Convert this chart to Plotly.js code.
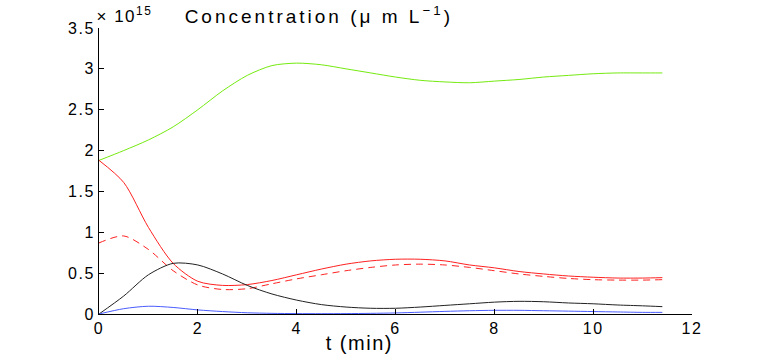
<!DOCTYPE html>
<html>
<head>
<meta charset="UTF-8">
<script src="https://cdn.plot.ly/plotly-3.0.1.min.js"></script>
<style>
	body { margin: 0; background: #fff; }
	#plot { width: 763px; height: 354px; }
	/* the reference text is set wide, so open it up a bit */
	#plot .xtick text, #plot .ytick text { letter-spacing: 1.5px; }
	#plot .annotation-text { letter-spacing: 1.5px; }
	#plot .gtitle { letter-spacing: 3px; }
</style>
</head>
<body>
<div id="plot"></div>
<script>
	// time points (min)
	var tMin = [0, 0.5, 1, 1.5, 2, 2.5, 3, 3.5, 4, 4.5, 5, 5.5, 6, 6.5, 7, 7.5, 8, 8.5, 9, 9.5, 10, 10.5, 11, 11.4];

	// concentrations, in units of 1e15
	var greenConc = [1.88, 2.00, 2.13, 2.29, 2.50, 2.73, 2.92, 3.04, 3.07, 3.05, 3.00, 2.95, 2.90, 2.86, 2.84, 2.83, 2.85, 2.87, 2.90, 2.92, 2.94, 2.95, 2.95, 2.95];
	var redConc = [1.88, 1.61, 1.06, 0.62, 0.40, 0.35, 0.36, 0.41, 0.48, 0.55, 0.61, 0.65, 0.67, 0.67, 0.65, 0.60, 0.565, 0.52, 0.49, 0.465, 0.45, 0.44, 0.44, 0.445];
	var redDashConc = [0.87, 0.955, 0.79, 0.53, 0.355, 0.30, 0.31, 0.37, 0.43, 0.48, 0.53, 0.57, 0.60, 0.61, 0.60, 0.57, 0.53, 0.49, 0.46, 0.435, 0.42, 0.415, 0.415, 0.42];
	var blackConc = [0, 0.22, 0.48, 0.62, 0.60, 0.49, 0.35, 0.245, 0.17, 0.115, 0.085, 0.07, 0.07, 0.085, 0.105, 0.125, 0.145, 0.155, 0.15, 0.135, 0.125, 0.11, 0.10, 0.09];
	var blueConc = [0, 0.065, 0.095, 0.08, 0.05, 0.03, 0.015, 0.008, 0.005, 0.004, 0.005, 0.008, 0.013, 0.022, 0.032, 0.04, 0.045, 0.045, 0.04, 0.035, 0.03, 0.025, 0.02, 0.02];

	var yTicks = [0, 0.5, 1, 1.5, 2, 2.5, 3, 3.5];
	var yTickText = ['0', '0.5', '1', '1.5', '2', '2.5', '3', '3.5'];
	var xTicks = [0, 2, 4, 6, 8, 10, 12];

	function makeTrace(y, color, dash)
	{
		return {
			x: tMin,
			y: y,
			type: 'scatter',
			mode: 'lines',
			line: {color: color, width: 1, dash: dash, shape: 'spline', smoothing: 0.8},
			hoverinfo: 'skip'
		};
	}

	var data = [
		makeTrace(greenConc, '#74ea10', 'solid'),
		makeTrace(redConc, '#ff2020', 'solid'),
		makeTrace(redDashConc, '#ff2020', '7px,5px'),
		makeTrace(blackConc, '#222222', 'solid'),
		makeTrace(blueConc, '#4a5cff', 'solid')
	];

	var fontFam = 'Liberation Sans, Arial, sans-serif';

	var layout = {
		width: 763,
		height: 354,
		margin: {l: 99, r: 71, t: 28, b: 40},
		paper_bgcolor: '#ffffff',
		plot_bgcolor: '#ffffff',
		showlegend: false,
		font: {family: fontFam, size: 16, color: '#000'},
		title: {
			text: 'Concentration (μ m L<sup>−1</sup>)',
			font: {size: 19},
			xref: 'container', yref: 'container',
			x: 0.242, xanchor: 'left',
			y: 0.955, yanchor: 'middle'
		},
		xaxis: {
			range: [0, 12],
			tickvals: xTicks,
			ticks: 'inside',
			ticklen: 5,
			tickcolor: '#000',
			showline: true,
			linecolor: '#000',
			linewidth: 1,
			showgrid: false,
			zeroline: false,
			mirror: false,
			tickfont: {size: 16}
		},
		yaxis: {
			range: [0, 3.5],
			tickvals: yTicks,
			ticktext: yTickText,
			ticks: 'inside',
			ticklen: 5,
			tickcolor: '#000',
			showline: true,
			linecolor: '#000',
			linewidth: 1,
			showgrid: false,
			zeroline: false,
			mirror: false,
			tickfont: {size: 16}
		},
		annotations: [
			{
				xref: 'paper', yref: 'paper', x: 0, y: 1, xanchor: 'left', yanchor: 'bottom',
				xshift: 0, yshift: 0,
				text: '× 10<sup>15</sup>', showarrow: false, font: {size: 17}
			},
			{
				xref: 'paper', yref: 'paper', x: 0.44, y: 0, xanchor: 'center', yanchor: 'top',
				yshift: -16,
				text: 't (min)', showarrow: false, font: {size: 20}
			}
		]
	};

	Plotly.newPlot('plot', data, layout, {displayModeBar: false, staticPlot: true});
</script>
</body>
</html>
